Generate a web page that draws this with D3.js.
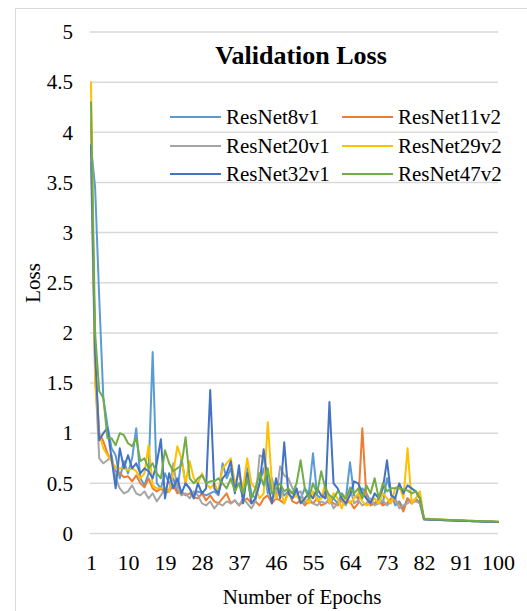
<!DOCTYPE html>
<html><head><meta charset="utf-8">
<script src="https://cdn.jsdelivr.net/npm/d3@7"></script>
<style>body{margin:0;background:#fff}svg{display:block}</style>
</head><body><div id="chart"></div>
<script>
const seriesNames = ["ResNet8v1","ResNet11v2","ResNet20v1","ResNet29v2","ResNet32v1","ResNet47v2"];
const seriesColors = ["#5B9BD5","#ED7D31","#A5A5A5","#FFC000","#4472C4","#70AD47"];
const xTickLabels = [1,10,19,28,37,46,55,64,73,82,91,100];
const yTickLabels = [0,0.5,1,1.5,2,2.5,3,3.5,4,4.5,5];

const resnet8v1 = [
3.86,3.45,2.35,1.35,1.08,0.85,0.78,0.55,0.72,0.6,
0.75,1.05,0.55,0.48,0.6,1.81,0.5,0.45,0.6,0.5,
0.55,0.42,0.75,0.5,0.45,0.38,0.42,0.4,0.38,0.4,
0.42,0.38,0.7,0.55,0.65,0.45,0.5,0.35,0.65,0.4,
0.35,0.5,0.65,0.4,0.55,0.35,0.45,0.38,0.42,0.4,
0.38,0.35,0.45,0.4,0.8,0.38,0.35,0.42,0.3,0.35,
0.3,0.4,0.35,0.71,0.38,0.35,0.45,0.4,0.32,0.3,
0.35,0.3,0.55,0.4,0.28,0.32,0.25,0.35,0.3,0.35,
0.3,0.142,0.14,0.139,0.137,0.136,0.134,0.132,0.131,0.129,
0.128,0.126,0.125,0.123,0.122,0.12,0.119,0.118,0.116,0.115];
const resnet11v2 = [
4.1,1.7,1.0,0.92,0.8,0.72,0.62,0.6,0.56,0.57,
0.52,0.58,0.5,0.46,0.55,0.45,0.42,0.45,0.4,0.42,
0.48,0.4,0.42,0.38,0.4,0.36,0.35,0.4,0.33,0.38,
0.32,0.3,0.35,0.4,0.3,0.33,0.28,0.32,0.35,0.3,
0.32,0.28,0.35,0.38,0.3,0.35,0.33,0.3,0.42,0.32,
0.3,0.33,0.28,0.32,0.3,0.35,0.28,0.3,0.33,0.3,
0.28,0.35,0.3,0.32,0.25,0.3,1.05,0.35,0.28,0.3,
0.32,0.28,0.3,0.35,0.32,0.3,0.22,0.35,0.3,0.33,
0.32,0.144,0.142,0.14,0.138,0.136,0.134,0.133,0.131,0.13,
0.128,0.127,0.125,0.124,0.122,0.121,0.12,0.118,0.117,0.116];
const resnet20v1 = [
3.7,1.6,0.75,0.7,0.73,0.78,0.55,0.45,0.4,0.42,
0.48,0.4,0.38,0.42,0.35,0.4,0.32,0.38,0.45,0.42,
0.7,0.45,0.38,0.4,0.35,0.42,0.38,0.3,0.28,0.32,
0.25,0.3,0.28,0.32,0.3,0.33,0.28,0.35,0.3,0.25,
0.32,0.78,0.76,0.45,0.5,0.35,0.67,0.58,0.55,0.45,
0.4,0.42,0.3,0.35,0.3,0.28,0.32,0.3,0.35,0.25,
0.3,0.32,0.28,0.46,0.3,0.33,0.28,0.3,0.35,0.28,
0.3,0.33,0.28,0.32,0.35,0.25,0.28,0.3,0.33,0.32,
0.3,0.14,0.139,0.137,0.136,0.134,0.133,0.131,0.13,0.128,
0.127,0.126,0.124,0.123,0.122,0.12,0.119,0.118,0.116,0.115];
const resnet29v2 = [
4.5,1.5,1.0,0.85,0.78,0.72,0.66,0.65,0.65,0.63,
0.65,0.62,0.55,0.6,0.88,0.48,0.45,0.45,0.45,0.42,
0.6,0.87,0.75,0.5,0.72,0.55,0.5,0.6,0.5,0.45,
0.5,0.42,0.65,0.7,0.75,0.5,0.6,0.45,0.75,0.5,
0.45,0.35,0.4,1.11,0.5,0.35,0.45,0.3,0.4,0.35,
0.38,0.32,0.35,0.3,0.42,0.33,0.35,0.5,0.3,0.4,
0.35,0.25,0.38,0.3,0.35,0.4,0.32,0.28,0.3,0.35,
0.3,0.4,0.35,0.3,0.45,0.48,0.35,0.85,0.3,0.35,
0.42,0.148,0.146,0.144,0.142,0.14,0.138,0.136,0.135,0.133,
0.131,0.13,0.128,0.127,0.125,0.124,0.122,0.121,0.12,0.118];
const resnet32v1 = [
3.87,1.8,0.93,1.0,1.05,0.75,0.45,0.85,0.65,0.78,
0.65,0.7,0.6,0.65,0.62,0.55,0.7,0.94,0.35,0.6,
0.45,0.55,0.4,0.5,0.45,0.35,0.5,0.4,0.45,1.43,
0.45,0.4,0.55,0.6,0.72,0.4,0.68,0.3,0.6,0.3,
0.35,0.5,0.84,0.5,0.3,0.55,0.35,0.91,0.4,0.35,
0.45,0.3,0.35,0.4,0.35,0.45,0.38,0.35,1.31,0.5,
0.45,0.35,0.3,0.38,0.52,0.5,0.4,0.35,0.3,0.4,
0.35,0.45,0.73,0.38,0.35,0.5,0.4,0.48,0.45,0.42,
0.35,0.141,0.139,0.138,0.136,0.134,0.133,0.131,0.13,0.128,
0.127,0.125,0.124,0.122,0.121,0.12,0.118,0.117,0.116,0.114];
const resnet47v2 = [
4.3,2.0,1.42,1.35,0.95,0.95,0.88,1.0,0.98,0.9,
0.87,0.95,0.72,0.75,0.65,0.7,0.6,0.55,0.83,0.7,
0.62,0.65,0.68,0.96,0.55,0.5,0.55,0.58,0.5,0.52,
0.52,0.55,0.5,0.45,0.55,0.42,0.5,0.4,0.55,0.35,
0.45,0.6,0.48,0.65,0.4,0.45,0.5,0.42,0.45,0.4,
0.5,0.73,0.45,0.35,0.5,0.4,0.62,0.45,0.38,0.35,
0.42,0.38,0.35,0.45,0.4,0.45,0.35,0.48,0.4,0.55,
0.35,0.5,0.42,0.45,0.45,0.45,0.44,0.43,0.4,0.42,
0.35,0.146,0.144,0.142,0.14,0.139,0.137,0.135,0.134,0.132,
0.131,0.129,0.128,0.126,0.125,0.123,0.122,0.121,0.119,0.118];
const seriesValues = [resnet8v1,resnet11v2,resnet20v1,resnet29v2,resnet32v1,resnet47v2];
const epochs = d3.range(1, 101);

const W = 527, H = 611;
const svg = d3.select("#chart").append("svg").attr("width", W).attr("height", H)
  .style("font-family", "'Liberation Serif','Times New Roman',serif");

svg.append("rect").attr("x", 15.5).attr("y", 8.5).attr("width", 600).attr("height", 700)
  .attr("fill", "none").attr("stroke", "#d9d9d9").attr("stroke-width", 1);

const x = d3.scaleLinear().domain([1, 100]).range([91, 498]);
const y = d3.scaleLinear().domain([0, 5]).range([533.5, 32]);

// gridlines
svg.append("g").selectAll("line").data(yTickLabels).join("line")
  .attr("x1", 90).attr("x2", 498).attr("y1", d => y(d)).attr("y2", d => y(d))
  .attr("stroke", "#d9d9d9").attr("stroke-width", 1.5);

// y axis labels
const yAxis = d3.axisLeft(y).tickValues(yTickLabels).tickSize(0).tickPadding(0).tickFormat(d => d);
const gy = svg.append("g").attr("transform", "translate(73,0)").call(yAxis);
gy.select(".domain").remove();
gy.selectAll("text").attr("font-size", 21).attr("fill", "#000")
  .style("font-family", "'Liberation Serif','Times New Roman',serif");

// x axis labels
const xAxis = d3.axisBottom(x).tickValues(xTickLabels).tickSize(0).tickPadding(0).tickFormat(d => d);
const gx = svg.append("g").attr("transform", "translate(0,554)").call(xAxis);
gx.select(".domain").remove();
gx.selectAll("text").attr("font-size", 22).attr("fill", "#000").attr("dy", "0.71em")
  .style("font-family", "'Liberation Serif','Times New Roman',serif");

// lines
const line = d3.line().x((d, i) => x(epochs[i])).y(d => y(d));
svg.append("g").selectAll("path").data(seriesValues).join("path")
  .attr("d", d => line(d)).attr("fill", "none")
  .attr("stroke", (d, i) => seriesColors[i]).attr("stroke-width", 2)
  .attr("stroke-linejoin", "round").attr("stroke-linecap", "round");

// title
svg.append("text").attr("x", 301).attr("y", 64).attr("text-anchor", "middle")
  .attr("font-size", 26).attr("font-weight", "bold").text("Validation Loss");

// axis titles
svg.append("text").attr("transform", "translate(40,283) rotate(-90)").attr("text-anchor", "middle")
  .attr("font-size", 21).text("Loss");
svg.append("text").attr("x", 302).attr("y", 604).attr("text-anchor", "middle")
  .attr("font-size", 21).text("Number of Epochs");

// legend
const legX = [170, 342], legY = [117, 146, 174];
const leg = svg.append("g").selectAll("g").data(seriesNames).join("g")
  .attr("transform", (d, i) => `translate(${legX[i % 2]},${legY[Math.floor(i / 2)]})`);
leg.append("line").attr("x1", 0).attr("x2", 51).attr("y1", 0).attr("y2", 0)
  .attr("stroke", (d, i) => seriesColors[i]).attr("stroke-width", 2);
leg.append("text").attr("x", 56).attr("y", 7).attr("font-size", 21).text(d => d);
</script></body></html>
